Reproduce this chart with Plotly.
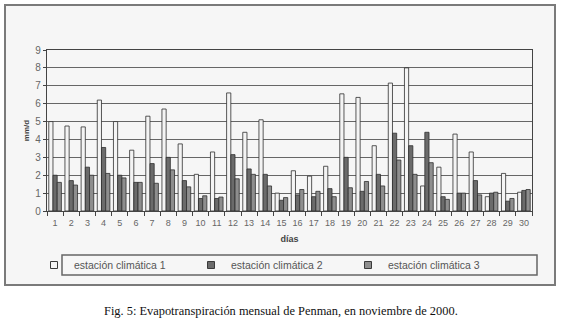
import plotly.graph_objects as go

days = [str(d) for d in range(1, 31)]
estacion1 = [5.0, 4.75, 4.7, 6.2, 5.0, 3.4, 5.3, 5.7, 3.75, 2.05,
             3.3, 6.6, 4.4, 5.1, 1.0, 2.25, 1.95, 2.5, 6.55, 6.35,
             3.65, 7.15, 8.0, 1.4, 2.45, 4.3, 3.3, 0.8, 2.1, 1.05]
estacion2 = [2.0, 1.7, 2.45, 3.55, 2.0, 1.6, 2.65, 3.0, 1.7, 0.7,
             0.7, 3.15, 2.35, 2.05, 0.6, 0.9, 0.8, 1.25, 3.0, 1.1,
             2.05, 4.35, 3.65, 4.4, 0.8, 1.0, 1.7, 1.0, 0.55, 1.15]
estacion3 = [1.6, 1.45, 2.0, 2.1, 1.85, 1.6, 1.55, 2.3, 1.35, 0.85,
             0.78, 1.8, 2.05, 1.4, 0.75, 1.2, 1.1, 0.8, 1.3, 1.65,
             1.4, 2.85, 2.05, 2.7, 0.65, 1.0, 0.9, 1.05, 0.7, 1.2]
series_names = ["estación climática 1", "estación climática 2", "estación climática 3"]
y_ticks = list(range(0, 10))

fill_colors = ["#f4f4f4", "#6b6b6b", "#8e8e8e"]

fig = go.Figure()
for name, vals, col in zip(series_names, [estacion1, estacion2, estacion3], fill_colors):
    fig.add_trace(go.Bar(x=days, y=vals, name=name, showlegend=False, legendgroup=name,
                         marker=dict(color=col, line=dict(color="#2e2e2e", width=0.8))))
# legend entries with small square keys
for name, col in zip(series_names, fill_colors):
    fig.add_trace(go.Scatter(x=[None], y=[None], mode="markers", name=name, legendgroup=name,
                             marker=dict(symbol="square", size=7, color=col,
                                         line=dict(color="#3a3a3a", width=1))))

W, H = 561, 322
L, R, T, B = 47, 532, 50, 211
pw, ph = R - L, B - T

def px(x):
    return (x - L) / pw

def py(y):
    return (B - y) / ph

fig.update_layout(
    width=W, height=H,
    margin=dict(l=L, r=W - R, t=T, b=H - B, autoexpand=False),
    paper_bgcolor="white", plot_bgcolor="white",
    barmode="group", bargap=0.22, bargroupgap=0.0,
    font=dict(family="Liberation Sans, Arial, sans-serif", color="#555555", size=10),
    showlegend=True,
    legend=dict(orientation="h", xref="container", yref="container",
                x=34 / W, xanchor="left", y=(H - 265) / H, yanchor="middle",
                entrywidth=112, entrywidthmode="pixels",
                bgcolor="rgba(0,0,0,0)", borderwidth=0,
                font=dict(size=10.5, color="#555555"), itemwidth=30,
                traceorder="normal"),
    shapes=[
        dict(type="rect", xref="paper", yref="paper", x0=px(5), x1=px(555), y0=py(285), y1=py(5),
             line=dict(color="#7a7a7a", width=2), fillcolor="#f6f6f6", layer="below"),
        dict(type="rect", xref="paper", yref="paper", x0=px(62), x1=px(537), y0=py(275), y1=py(255),
             line=dict(color="#666666", width=1.5), fillcolor="rgba(0,0,0,0)", layer="above"),
    ],
    annotations=[
        dict(text="Fig. 5: Evapotranspiración mensual de Penman, en noviembre de 2000.",
             xref="paper", yref="paper", x=px(281), y=py(311), xanchor="center", yanchor="middle",
             showarrow=False, font=dict(family="Liberation Serif, serif", size=12.4, color="#111111")),
    ],
)

fig.update_xaxes(
    title=dict(text="<b>días</b>", font=dict(size=9, color="#444444"), standoff=8),
    showline=True, linecolor="#444444", linewidth=1.2, mirror=True,
    ticks="outside", tickson="boundaries", ticklen=4, tickcolor="#444444",
    tickfont=dict(size=9, color="#666666"), tickangle=0, showgrid=False, automargin=False,
    ticklabelstandoff=3,
)
fig.update_yaxes(
    range=[0, 9], tickvals=y_ticks,
    title=dict(text="<b>mm/d</b>", font=dict(size=8, color="#444444"), standoff=4),
    showline=True, linecolor="#444444", linewidth=1.2, mirror=True,
    ticks="outside", ticklen=3, tickcolor="#444444",
    tickfont=dict(size=10, color="#666666"), automargin=False,
    showgrid=True, gridcolor="#666666", gridwidth=1.4, zeroline=False,
)

fig.write_html("out.html", config={"displayModeBar": False},
               post_script="document.body.style.margin='0';document.body.style.padding='0';")
